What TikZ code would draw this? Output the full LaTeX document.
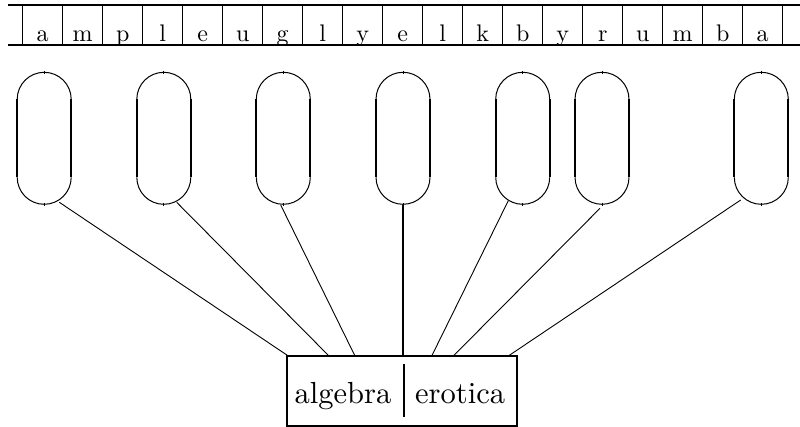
\documentclass[tikz,border=0pt]{standalone}
\usepackage{fontspec}
\newfontfamily\lmten{lmroman10-regular.otf}
\begin{document}
\begin{tikzpicture}[x=1pt,y=-1pt,
  stripline/.style={line width=2pt},
  divider/.style={line width=1.3pt},
  letter/.style={inner sep=0pt,anchor=base,font=\lmten\fontsize{24}{28}\selectfont},
  ovalside/.style={line width=2pt},
  ovalarc/.style={line width=1pt},
  ovaltick/.style={line width=0.8pt},
  link/.style={line width=0.9pt},
  boxnode/.style={draw,line width=2pt,minimum width=230pt,minimum height=70pt,inner sep=0pt},
  boxtext/.style={inner sep=0pt,anchor=base west,font=\lmten\fontsize{30.5}{36}\selectfont}]
\useasboundingbox (0,0) rectangle (800,427);
% strip
\coordinate (sl1) at (8,5); \coordinate (sr1) at (800,5);
\coordinate (sl2) at (8,45); \coordinate (sr2) at (800,45);
\draw[stripline] (sl1) -- (sr1);
\draw[stripline] (sl2) -- (sr2);
\foreach \k in {0,...,19} {
  \draw[divider] (22.7+40*\k,5) -- (22.7+40*\k,45);
}
\foreach \c [count=\i] in {a,m,p,l,e,u,g,l,y,e,l,k,b,y,r,u,m,b,a} {
  \node[letter] (let\i) at (2.7+40*\i,41.7) {\c};
}
% ovals
\foreach \cx in {44.2,163.8,283.3,403,522.7,602,761.3} {
  \draw[ovalside] (\cx-27,99.3) -- (\cx-27,177.3);
  \draw[ovalside] (\cx+27,99.3) -- (\cx+27,177.3);
  \draw[ovalarc] (\cx-27,177.3) arc (180:0:27);
  \draw[ovalarc] (\cx+27,99.3) arc (0:-180:27);
  \draw[ovaltick] (\cx,70.8) -- (\cx,73.8);
  \draw[ovaltick] (\cx,202.8) -- (\cx,205.8);
}
% attachment points
\coordinate (o1) at (59.3,202.3);
\coordinate (o2) at (176.7,202.3);
\coordinate (o3) at (280.7,205);
\coordinate (o4) at (402.7,205);
\coordinate (o5) at (508.3,200.7);
\coordinate (o6) at (600,208.3);
\coordinate (o7) at (740.7,200);
% box
\node[boxnode] (box) at (401.7,391) {};
\coordinate (t1) at (288.3,356);
\coordinate (t2) at (329,356);
\coordinate (t3) at (355,356);
\coordinate (t4) at (402.7,356);
\coordinate (t5) at (431.7,356);
\coordinate (t6) at (453.3,356);
\coordinate (t7) at (508.3,356);
\draw[link] (o1) -- (t1);
\draw[link] (o2) -- (t2);
\draw[link] (o3) -- (t3);
\draw[line width=2pt] (o4) -- (t4);
\draw[link] (o5) -- (t5);
\draw[link] (o6) -- (t6);
\draw[link] (o7) -- (t7);
\node[boxtext] (alg) at (294.5,403.3) {algebra};
\node[boxtext] (ero) at (415,403.3) {erotica};
\coordinate (d1) at (404.3,364.3);
\coordinate (d2) at (404.3,417.3);
\draw[line width=2pt] (d1) -- (d2);
\end{tikzpicture}
\end{document}
